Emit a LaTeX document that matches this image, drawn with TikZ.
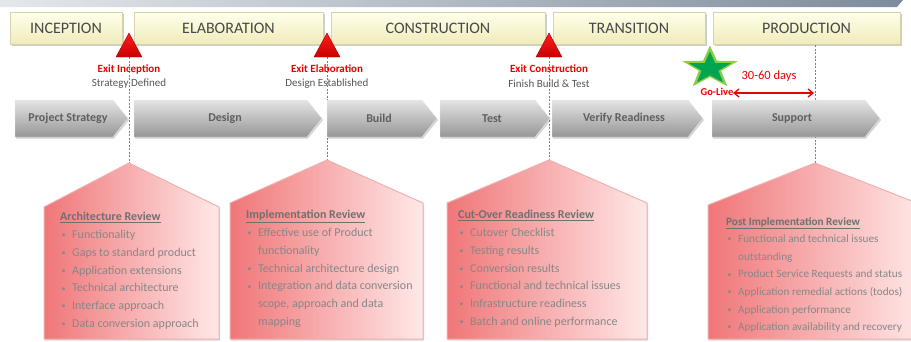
\documentclass[tikz,border=0pt]{standalone}
\usepackage{fontspec}
\setmainfont{Carlito}
\usetikzlibrary{shadows,arrows.meta,shapes.geometric}
\definecolor{barL}{RGB}{228,232,236}
\definecolor{barR}{RGB}{125,140,155}
\definecolor{phasetop}{RGB}{255,255,236}
\definecolor{phasebot}{RGB}{238,236,185}
\definecolor{phaseedge}{RGB}{215,212,170}
\definecolor{phtext}{RGB}{72,72,72}
\definecolor{chtop}{RGB}{228,228,228}
\definecolor{chbot}{RGB}{150,150,150}
\definecolor{chtext}{RGB}{95,95,95}
\definecolor{hsL}{RGB}{240,118,120}
\definecolor{hsR}{RGB}{255,232,232}
\definecolor{hsEdge}{RGB}{240,175,175}
\definecolor{htgray}{RGB}{135,135,135}
\definecolor{httitle}{RGB}{112,112,112}
\definecolor{exred}{RGB}{235,0,0}
\definecolor{exgray}{RGB}{85,85,85}
\definecolor{vblue}{RGB}{40,150,235}
\definecolor{tritop}{RGB}{255,30,30}
\definecolor{tribot}{RGB}{200,0,0}
\definecolor{triedge}{RGB}{170,0,0}
\definecolor{starglow}{RGB}{140,205,70}
\definecolor{stardark}{RGB}{0,165,80}
\newcommand\hbul{\makebox[12pt][l]{\hspace{1.5pt}\raisebox{0.8pt}{\fontsize{8}{8}\selectfont\textbullet}}}
\newcommand\hcont{\hspace*{12pt}}
\newcommand\htitle[1]{\textcolor{httitle}{\underline{\textbf{#1}}}}
\begin{document}
\begin{tikzpicture}[x=1pt,y=-1pt,
  phase/.style={draw=phaseedge, line width=0.4pt, top color=phasetop, bottom color=phasebot,
    drop shadow={opacity=0.4,shadow xshift=1.8pt,shadow yshift=-1.8pt}},
  phasetext/.style={font=\fontsize{16}{18}\selectfont, text=phtext, inner sep=0},
  chev/.style={top color=chtop, bottom color=chbot, draw=white!85!gray, line width=0.4pt,
    drop shadow={opacity=0.35,shadow xshift=1pt,shadow yshift=-1.5pt}},
  chevtext/.style={font=\fontsize{12}{14}\selectfont\bfseries, text=chtext, inner sep=0},
  tri/.style={top color=tritop, bottom color=tribot, draw=triedge, line width=0.4pt},
  vline/.style={draw=vblue, line width=0.6pt, dash pattern=on 2pt off 1.5pt},
  exitred/.style={font=\fontsize{11}{13}\selectfont\bfseries, text=exred, inner sep=0},
  exitgray/.style={font=\fontsize{11}{13}\selectfont, text=exgray, inner sep=0},
  house/.style={left color=hsL, right color=hsR, draw=hsEdge, line width=1pt,
    drop shadow={opacity=0.3,shadow xshift=1pt,shadow yshift=-1.5pt}},
  htext/.style={anchor=north west, inner sep=0, align=left, text=htgray, font=\fontsize{12}{17.8}\selectfont},
  redtext/.style={text=exred, inner sep=0}]
\useasboundingbox (0,0) rectangle (911,341);
\clip (0,0) rectangle (911,341);
% top bar
\shade[left color=barL, right color=barR] (0,0) -- (903,0) -- (897,7) -- (0,7) -- cycle;
% phase boxes
\path[phase] (10,12) rectangle (122,44);
\node[phasetext] (inc) at (66,28) {INCEPTION};
\path[phase] (134,12) rectangle (323,44);
\node[phasetext] (ela) at (228.5,28) {ELABORATION};
\path[phase] (331,12) rectangle (545,44);
\node[phasetext] (con) at (438,28) {CONSTRUCTION};
\path[phase] (553,12) rectangle (705,44);
\node[phasetext] (tra) at (629,28) {TRANSITION};
\path[phase] (713,12) rectangle (900,44);
\node[phasetext] (pro) at (806.5,28) {PRODUCTION};
% milestone coordinates
\coordinate (t1) at (129,57);
\coordinate (t2) at (327,57);
\coordinate (t3) at (549,57);
\coordinate (t4) at (815,45);
\coordinate (p1) at (129,163);
\coordinate (p2) at (327,160);
\coordinate (p3) at (549,160);
\coordinate (p4) at (815,163);
% dashed lines
\draw[vline] (t1) -- (p1);
\draw[vline] (t2) -- (p2);
\draw[vline] (t3) -- (p3);
\draw[vline] (t4) -- (p4);
% triangles
\path[tri] (116,57) -- (129,33) -- (142,57) -- cycle;
\path[tri] (314,57) -- (327,33) -- (340,57) -- cycle;
\path[tri] (536,57) -- (549,33) -- (562,57) -- cycle;
% exit labels
\node[exitred] (ex1) at (129,69) {Exit Inception};
\node[exitgray] (sd1) at (129,84) {Strategy Defined};
\node[exitred] (ex2) at (327,69) {Exit Elaboration};
\node[exitgray] (sd2) at (327,84) {Design Established};
\node[exitred] (ex3) at (549,69) {Exit Construction};
\node[exitgray] (sd3) at (549,84) {Finish Build \& Test};
% go-live star
\node[star, star points=5, star point ratio=2.5, fill=starglow, minimum size=45pt, inner sep=0, xscale=1.3] (starA) at (710,68) {};
\node[star, star points=5, star point ratio=2.5, fill=stardark, minimum size=34pt, inner sep=0, xscale=1.3] (starB) at (710,68.5) {};
\node[redtext, font=\fontsize{10.5}{12}\selectfont\bfseries] (gl) at (717,92) {Go-Live};
\node[redtext, font=\fontsize{12.5}{14}\selectfont] (days) at (769,76) {30-60 days};
\coordinate (a1) at (733,93);
\coordinate (a2) at (814,93);
\draw[exred, line width=1.3pt, {Straight Barb[length=5pt,width=8pt]}-{Straight Barb[length=5pt,width=8pt]}] (a1) -- (a2);
% chevrons
\path[chev] (15,100) -- (113,100) -- (128,118.5) -- (113,137) -- (15,137) -- cycle;
\node[chevtext] (c1) at (68,118.5) {Project Strategy};
\path[chev] (134,100) -- (307,100) -- (322,118.5) -- (307,137) -- (134,137) -- cycle;
\node[chevtext] (c2) at (225,118.5) {Design};
\path[chev] (327,100) -- (422,100) -- (437,118.5) -- (422,137) -- (327,137) -- cycle;
\node[chevtext] (c3) at (379,118.5) {Build};
\path[chev] (440,100) -- (535,100) -- (550,118.5) -- (535,137) -- (440,137) -- cycle;
\node[chevtext] (c4) at (492,118.5) {Test};
\path[chev] (552,100) -- (688,100) -- (703,118.5) -- (688,137) -- (552,137) -- cycle;
\node[chevtext] (c5) at (624,118.5) {Verify Readiness};
\path[chev] (712,100) -- (865,100) -- (880,118.5) -- (865,137) -- (712,137) -- cycle;
\node[chevtext] (c6) at (792,118.5) {Support};
% houses
\path[house] (44,339) -- (44,207) -- (p1) -- (219,207) -- (219,339) -- cycle;
\path[house] (230,339) -- (230,203) -- (p2) -- (423,203) -- (423,339) -- cycle;
\path[house] (447,339) -- (447,203) -- (p3) -- (647,203) -- (647,339) -- cycle;
\path[house] (708,339) -- (708,205) -- (p4) -- (922,205) -- (922,339) -- cycle;
% house texts
\node[htext] (h1) at (60,212) {\htitle{Architecture Review}\\
\hbul Functionality\\
\hbul Gaps to standard product\\
\hbul Application extensions\\
\hbul Technical architecture\\
\hbul Interface approach\\
\hbul Data conversion approach};
\node[htext] (h2) at (246,210) {\htitle{Implementation Review}\\
\hbul Effective use of Product\\
\hcont functionality\\
\hbul Technical architecture design\\
\hbul Integration and data conversion\\
\hcont scope, approach and data\\
\hcont mapping};
\node[htext] (h3) at (458,210) {\htitle{Cut-Over Readiness Review}\\
\hbul Cutover Checklist\\
\hbul Testing results\\
\hbul Conversion results\\
\hbul Functional and technical issues\\
\hbul Infrastructure readiness\\
\hbul Batch and online performance};
\node[htext, font=\fontsize{11.2}{17.6}\selectfont] (h4) at (726,217) {\htitle{Post Implementation Review}\\
\hbul Functional and technical issues\\
\hcont outstanding\\
\hbul Product Service Requests and status\\
\hbul Application remedial actions (todos)\\
\hbul Application performance\\
\hbul Application availability and recovery};
\end{tikzpicture}
\end{document}
